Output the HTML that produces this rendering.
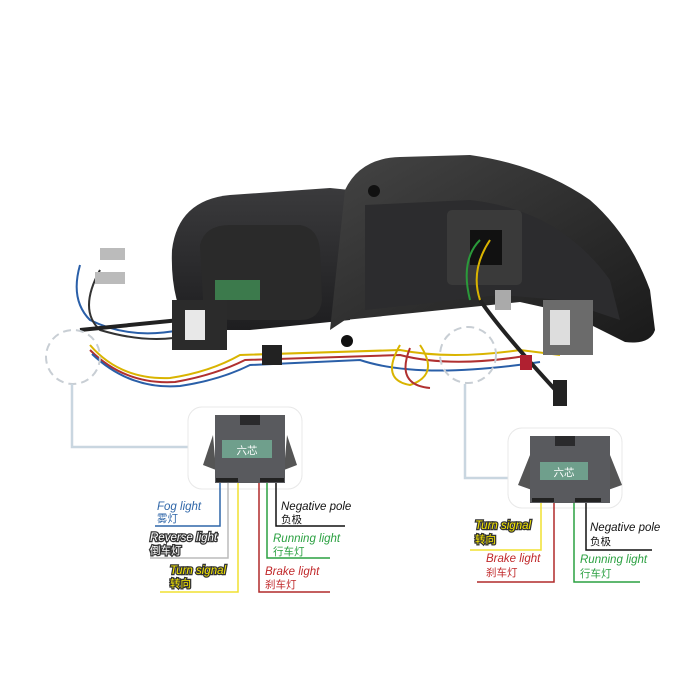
<!DOCTYPE html>
<html><head><meta charset="utf-8"><style>
html,body{margin:0;padding:0;background:#fff;width:700px;height:700px;overflow:hidden}
text{font-family:"Liberation Sans","Noto Sans CJK SC",sans-serif;font-style:italic;font-size:11.5px}
.c{font-style:normal;font-size:10.5px}
</style></head><body>
<svg width="700" height="700" viewBox="0 0 700 700" xmlns="http://www.w3.org/2000/svg">
<defs>
<linearGradient id="g1" x1="0" y1="0" x2="0" y2="1"><stop offset="0" stop-color="#3a3a3c"/><stop offset="1" stop-color="#1e1e20"/></linearGradient>
<linearGradient id="g2" x1="0" y1="0" x2="1" y2="1"><stop offset="0" stop-color="#444"/><stop offset="1" stop-color="#1a1a1a"/></linearGradient>
</defs>
<!-- left lamp -->
<path d="M172 250 Q178 200 230 195 L330 188 L350 190 L350 320 L250 330 L190 330 Q170 300 172 250Z" fill="url(#g1)"/>
<path d="M200 245 Q205 225 230 225 L300 225 Q318 228 320 250 L322 300 Q320 320 300 320 L230 320 Q205 318 203 300Z" fill="#2a2a2a"/>
<rect x="215" y="280" width="45" height="20" fill="#3c7a4c"/>
<!-- right lamp -->
<path d="M345 190 Q360 158 400 157 L470 155 Q540 165 590 200 Q630 235 650 290 L655 330 Q650 345 625 342 L565 312 L520 302 L345 320 L330 330 Z" fill="url(#g2)"/>
<path d="M365 205 L470 200 Q560 210 610 280 L620 320 L560 300 L500 295 L365 310Z" fill="#2c2c2e"/>
<rect x="447" y="210" width="75" height="75" rx="5" fill="#3a3a3a"/>
<rect x="470" y="230" width="32" height="35" fill="#111"/>
<circle cx="374" cy="191" r="6" fill="#111"/><circle cx="347" cy="341" r="6" fill="#111"/>
<!-- wires -->
<g fill="none" stroke-width="2">
<path d="M80 265 Q70 300 90 320 Q130 340 180 330" stroke="#2a5fa8"/>
<path d="M100 270 Q78 310 100 330 Q150 345 190 335" stroke="#333"/>
<path d="M90 345 Q120 380 170 378 Q210 372 240 355 L400 350 Q450 360 520 350 L560 355" stroke="#d9b400"/>
<path d="M90 350 Q125 385 175 382 Q215 375 245 360 L400 355 Q450 368 525 356" stroke="#b03030"/>
<path d="M92 354 Q130 390 180 386 Q220 380 250 365 L360 360 Q420 380 540 362" stroke="#2a5fa8"/>
<path d="M80 330 L180 320" stroke="#222" stroke-width="4"/>
<path d="M400 345 Q380 380 410 385 Q440 375 420 345" stroke="#d9b400"/>
<path d="M410 348 Q395 385 430 388" stroke="#b03030"/>
<path d="M480 300 Q500 330 560 395" stroke="#222" stroke-width="4"/>
<path d="M480 240 Q460 260 470 300" stroke="#2a9a3a"/>
<path d="M490 240 Q470 270 480 300" stroke="#d9b400"/>
</g>
<rect x="172" y="300" width="55" height="50" fill="#2b2b2b"/>
<rect x="185" y="310" width="20" height="30" fill="#e8e8e8"/>
<rect x="543" y="300" width="50" height="55" fill="#6b6b6b"/>
<rect x="550" y="310" width="20" height="35" fill="#ddd"/>
<rect x="262" y="345" width="20" height="20" fill="#222"/>
<rect x="553" y="380" width="14" height="26" fill="#222"/>
<rect x="520" y="355" width="12" height="15" fill="#b02030"/>
<rect x="100" y="248" width="25" height="12" fill="#bbb"/><rect x="95" y="272" width="30" height="12" fill="#bbb"/>
<rect x="495" y="290" width="16" height="20" fill="#aaa"/>
<!-- callout circles -->
<circle cx="73" cy="357" r="27" fill="none" stroke="#c8ced4" stroke-width="2" stroke-dasharray="8 5"/>
<circle cx="468" cy="355" r="28" fill="none" stroke="#c8ced4" stroke-width="2" stroke-dasharray="8 5"/>
<path d="M72 384 V447 H188" fill="none" stroke="#c9d6e0" stroke-width="2.5"/>
<path d="M465 384 V478 H508" fill="none" stroke="#c9d6e0" stroke-width="2.5"/>
<!-- left connector box -->
<rect x="188" y="407" width="114" height="82" rx="14" fill="#fff" stroke="#e8e8e8"/>
<polygon points="213,435 203,465 216,470" fill="#555"/><polygon points="287,435 297,465 284,470" fill="#555"/>
<rect x="215" y="415" width="70" height="68" fill="#595a5e"/>
<rect x="240" y="415" width="20" height="10" fill="#2a2a2c"/>
<rect x="222" y="440" width="50" height="18" fill="#6f9f8c"/>
<text x="247" y="454" class="c" fill="#fff" text-anchor="middle">六芯</text>
<rect x="216" y="478" width="22" height="4" fill="#222"/><rect x="260" y="478" width="24" height="4" fill="#222"/>
<g fill="none" stroke-width="1.5">
<path d="M220 483 V526 H155" stroke="#2f66a8"/>
<path d="M228 483 V558 H150" stroke="#bbb"/>
<path d="M238 483 V592 H160" stroke="#f0e030"/>
<path d="M259 483 V592 H330" stroke="#b02a2a"/>
<path d="M267 483 V558 H330" stroke="#2aa040"/>
<path d="M276 483 V526 H345" stroke="#111"/>
</g>
<text x="157" y="510" fill="#2f66a8">Fog light</text><text x="157" y="522" class="c" fill="#2f66a8">雾灯</text>
<text x="150" y="541" fill="#fff" stroke="#333" stroke-width="2.5" paint-order="stroke">Reverse light</text><text x="150" y="554" class="c" fill="#fff" stroke="#333" stroke-width="2.5" paint-order="stroke">倒车灯</text>
<text x="170" y="574" fill="#f5e600" stroke="#333" stroke-width="2.5" paint-order="stroke">Turn signal</text><text x="170" y="587" class="c" fill="#f5e600" stroke="#333" stroke-width="2.5" paint-order="stroke">转向</text>
<text x="281" y="510" fill="#111">Negative pole</text><text x="281" y="523" class="c" fill="#111">负极</text>
<text x="273" y="542" fill="#2aa040">Running light</text><text x="273" y="555" class="c" fill="#2aa040">行车灯</text>
<text x="265" y="575" fill="#c0282a">Brake light</text><text x="265" y="588" class="c" fill="#c0282a">刹车灯</text>
<!-- right connector box -->
<rect x="508" y="428" width="114" height="80" rx="14" fill="#fff" stroke="#e8e8e8"/>
<polygon points="530,455 518,485 532,490" fill="#555"/><polygon points="610,455 622,485 608,490" fill="#555"/>
<rect x="530" y="436" width="80" height="67" fill="#595a5e"/>
<rect x="555" y="436" width="20" height="10" fill="#2a2a2c"/>
<rect x="540" y="462" width="48" height="18" fill="#6f9f8c"/>
<text x="564" y="476" class="c" fill="#fff" text-anchor="middle">六芯</text>
<rect x="532" y="498" width="22" height="4" fill="#222"/><rect x="575" y="498" width="26" height="4" fill="#222"/>
<g fill="none" stroke-width="1.5">
<path d="M541 503 V550 H470" stroke="#f0e030"/>
<path d="M554 503 V582 H477" stroke="#b02a2a"/>
<path d="M574 503 V582 H640" stroke="#2aa040"/>
<path d="M586 503 V550 H652" stroke="#111"/>
</g>
<text x="475" y="529" fill="#f5e600" stroke="#333" stroke-width="2.5" paint-order="stroke">Turn signal</text><text x="475" y="543" class="c" fill="#f5e600" stroke="#333" stroke-width="2.5" paint-order="stroke">转向</text>
<text x="486" y="562" fill="#c0282a">Brake light</text><text x="486" y="576" class="c" fill="#c0282a">刹车灯</text>
<text x="590" y="531" fill="#111">Negative pole</text><text x="590" y="545" class="c" fill="#111">负极</text>
<text x="580" y="563" fill="#2aa040">Running light</text><text x="580" y="577" class="c" fill="#2aa040">行车灯</text>
</svg>
</body></html>
